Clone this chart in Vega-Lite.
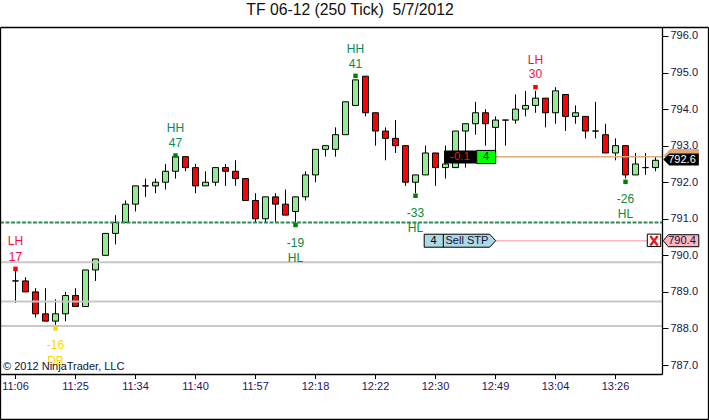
{
"$schema":"https://vega.github.io/schema/vega-lite/v6.json",
"width":662,"height":347,
"autosize":{"type":"none"},
"padding":{"left":0,"top":27,"right":47,"bottom":46},
"background":"white",
"config":{"font":"Liberation Sans","view":{"stroke":null}},
"title":{"text":"TF 06-12 (250 Tick) \u00a05/7/2012","fontSize":15.75,"fontWeight":"normal","color":"#111111","anchor":"middle","frame":"group","dx":19,"offset":8},
"datasets":{
"candles":[
{"bar":0,"open":789.3,"high":789.6,"low":788.7,"close":789.3,"dir":"up"},
{"bar":1,"open":789.3,"high":789.4,"low":789.0,"close":789.0,"dir":"down"},
{"bar":2,"open":789.0,"high":789.1,"low":788.3,"close":788.4,"dir":"down"},
{"bar":3,"open":788.4,"high":789.1,"low":788.2,"close":788.2,"dir":"down"},
{"bar":4,"open":788.2,"high":788.8,"low":788.1,"close":788.4,"dir":"up"},
{"bar":5,"open":788.4,"high":789.0,"low":788.2,"close":788.9,"dir":"up"},
{"bar":6,"open":788.9,"high":789.1,"low":788.6,"close":788.6,"dir":"down"},
{"bar":7,"open":788.6,"high":789.6,"low":788.6,"close":789.6,"dir":"up"},
{"bar":8,"open":789.6,"high":789.9,"low":789.3,"close":789.9,"dir":"up"},
{"bar":9,"open":790.0,"high":790.6,"low":790.0,"close":790.6,"dir":"up"},
{"bar":10,"open":790.6,"high":791.1,"low":790.3,"close":790.9,"dir":"up"},
{"bar":11,"open":790.9,"high":791.5,"low":790.9,"close":791.4,"dir":"up"},
{"bar":12,"open":791.4,"high":791.9,"low":791.2,"close":791.9,"dir":"up"},
{"bar":13,"open":791.9,"high":792.1,"low":791.6,"close":791.9,"dir":"up"},
{"bar":14,"open":791.9,"high":792.1,"low":791.7,"close":792.0,"dir":"up"},
{"bar":15,"open":792.0,"high":792.5,"low":791.8,"close":792.3,"dir":"up"},
{"bar":16,"open":792.3,"high":792.7,"low":792.1,"close":792.7,"dir":"up"},
{"bar":17,"open":792.7,"high":792.7,"low":792.3,"close":792.4,"dir":"down"},
{"bar":18,"open":792.4,"high":792.5,"low":791.7,"close":791.9,"dir":"down"},
{"bar":19,"open":791.9,"high":792.3,"low":791.9,"close":792.0,"dir":"up"},
{"bar":20,"open":792.0,"high":792.4,"low":791.9,"close":792.4,"dir":"up"},
{"bar":21,"open":792.4,"high":792.5,"low":791.9,"close":792.3,"dir":"down"},
{"bar":22,"open":792.3,"high":792.6,"low":791.9,"close":792.1,"dir":"down"},
{"bar":23,"open":792.1,"high":792.1,"low":791.5,"close":791.5,"dir":"down"},
{"bar":24,"open":791.5,"high":791.7,"low":790.9,"close":791.0,"dir":"down"},
{"bar":25,"open":791.0,"high":791.6,"low":790.9,"close":791.6,"dir":"up"},
{"bar":26,"open":791.6,"high":791.7,"low":790.9,"close":791.4,"dir":"down"},
{"bar":27,"open":791.4,"high":791.8,"low":791.1,"close":791.1,"dir":"down"},
{"bar":28,"open":791.2,"high":791.6,"low":790.9,"close":791.6,"dir":"up"},
{"bar":29,"open":791.6,"high":792.3,"low":791.5,"close":792.2,"dir":"up"},
{"bar":30,"open":792.2,"high":792.9,"low":792.0,"close":792.9,"dir":"up"},
{"bar":31,"open":792.9,"high":793.0,"low":792.7,"close":793.0,"dir":"up"},
{"bar":32,"open":792.9,"high":793.5,"low":792.7,"close":793.3,"dir":"up"},
{"bar":33,"open":793.3,"high":794.2,"low":793.3,"close":794.2,"dir":"up"},
{"bar":34,"open":794.1,"high":794.8,"low":794.1,"close":794.8,"dir":"up"},
{"bar":35,"open":794.9,"high":794.9,"low":793.8,"close":793.9,"dir":"down"},
{"bar":36,"open":793.9,"high":793.9,"low":793.0,"close":793.4,"dir":"down"},
{"bar":37,"open":793.4,"high":793.5,"low":792.6,"close":793.2,"dir":"down"},
{"bar":38,"open":793.2,"high":793.7,"low":792.8,"close":793.0,"dir":"down"},
{"bar":39,"open":793.0,"high":793.0,"low":791.9,"close":792.0,"dir":"down"},
{"bar":40,"open":792.0,"high":792.2,"low":791.7,"close":792.2,"dir":"up"},
{"bar":41,"open":792.2,"high":793.0,"low":792.2,"close":792.8,"dir":"up"},
{"bar":42,"open":792.8,"high":792.8,"low":791.9,"close":792.4,"dir":"down"},
{"bar":43,"open":792.4,"high":793.0,"low":792.1,"close":792.5,"dir":"up"},
{"bar":44,"open":792.4,"high":793.4,"low":792.4,"close":793.4,"dir":"up"},
{"bar":45,"open":793.4,"high":793.6,"low":792.4,"close":793.6,"dir":"up"},
{"bar":46,"open":793.6,"high":794.2,"low":793.3,"close":793.9,"dir":"up"},
{"bar":47,"open":793.9,"high":794.0,"low":793.0,"close":793.6,"dir":"down"},
{"bar":48,"open":793.5,"high":793.8,"low":792.8,"close":793.7,"dir":"up"},
{"bar":49,"open":793.7,"high":793.7,"low":793.0,"close":793.7,"dir":"up"},
{"bar":50,"open":793.7,"high":794.4,"low":793.6,"close":794.0,"dir":"up"},
{"bar":51,"open":794.0,"high":794.5,"low":793.8,"close":794.1,"dir":"up"},
{"bar":52,"open":794.1,"high":794.5,"low":793.9,"close":794.3,"dir":"up"},
{"bar":53,"open":794.3,"high":794.3,"low":793.5,"close":793.9,"dir":"down"},
{"bar":54,"open":793.9,"high":794.6,"low":793.6,"close":794.5,"dir":"up"},
{"bar":55,"open":794.4,"high":794.4,"low":793.4,"close":793.8,"dir":"down"},
{"bar":56,"open":793.8,"high":794.1,"low":793.6,"close":793.9,"dir":"up"},
{"bar":57,"open":793.8,"high":793.8,"low":793.2,"close":793.4,"dir":"down"},
{"bar":58,"open":793.4,"high":794.2,"low":793.2,"close":793.4,"dir":"up"},
{"bar":59,"open":793.3,"high":793.6,"low":792.8,"close":792.8,"dir":"down"},
{"bar":60,"open":792.8,"high":793.2,"low":792.6,"close":793.0,"dir":"up"},
{"bar":61,"open":793.0,"high":793.0,"low":792.1,"close":792.2,"dir":"down"},
{"bar":62,"open":792.2,"high":792.8,"low":792.2,"close":792.5,"dir":"up"},
{"bar":63,"open":792.4,"high":792.8,"low":792.2,"close":792.4,"dir":"up"},
{"bar":64,"open":792.4,"high":792.7,"low":792.3,"close":792.6,"dir":"up"}
],
"levels":[
{"bar":-1.55,"bar2":64.65,"price":789.81},
{"bar":-1.55,"bar2":64.65,"price":788.74},
{"bar":-1.55,"bar2":64.65,"price":788.07}
],
"pivots":[
{"bar":0,"price":789.63,"kind":"LH"},
{"bar":4,"price":788.0,"kind":"DB"},
{"bar":16,"price":792.73,"kind":"HH"},
{"bar":28,"price":790.83,"kind":"HL"},
{"bar":34,"price":794.91,"kind":"HH"},
{"bar":40,"price":791.63,"kind":"HL"},
{"bar":52,"price":794.6,"kind":"LH"},
{"bar":61,"price":792.01,"kind":"HL"}
],
"pivotLabels":[
{"bar":0,"price":790.39,"kind":"LH","label":"LH"},
{"bar":0,"price":789.96,"kind":"LH","label":"17"},
{"bar":4,"price":787.55,"kind":"DB","label":"-16"},
{"bar":4,"price":787.11,"kind":"DB","label":"DB"},
{"bar":16,"price":793.48,"kind":"HH","label":"HH"},
{"bar":16,"price":793.07,"kind":"HH","label":"47"},
{"bar":28,"price":790.35,"kind":"HL","label":"-19"},
{"bar":28,"price":789.93,"kind":"HL","label":"HL"},
{"bar":34,"price":795.64,"kind":"HH","label":"HH"},
{"bar":34,"price":795.23,"kind":"HH","label":"41"},
{"bar":40,"price":791.15,"kind":"HL","label":"-33"},
{"bar":40,"price":790.75,"kind":"HL","label":"HL"},
{"bar":52,"price":795.34,"kind":"LH","label":"LH"},
{"bar":52,"price":794.96,"kind":"LH","label":"30"},
{"bar":61,"price":791.53,"kind":"HL","label":"-26"},
{"bar":61,"price":791.13,"kind":"HL","label":"HL"}
],
"frame":[
{"bar":-1.5,"bar2":69.3,"price":796.2325,"price2":796.2325},
{"bar":-1.5,"bar2":69.3,"price":785.51,"price2":785.51},
{"bar":-1.5,"bar2":-1.5,"price":796.2325,"price2":785.51},
{"bar":69.3,"bar2":69.3,"price":796.2325,"price2":785.51},
{"bar":-1.5,"bar2":64.7,"price":786.74,"price2":786.74},
{"bar":64.7,"bar2":64.7,"price":796.2325,"price2":786.74}
]
},
"encoding":{
"x":{"field":"bar","type":"quantitative","scale":{"domain":[-1.55,64.65],"nice":false,"zero":false,"padding":0},"title":null,
"axis":{"values":[0,6,12,18,24,30,36,42,48,54,60],"grid":false,"domain":false,"tickSize":5,"tickColor":"#000000","tickWidth":1,"tickRound":false,"translate":0,"labelPadding":2,"labelFontSize":11,"labelColor":"#2a1068","labelFlush":false,"labelOverlap":false,"title":null,
"labelExpr":"['11:06','11:25','11:34','11:40','11:57','12:18','12:22','12:30','12:49','13:04','13:26'][datum.value/6]"}},
"y":{"field":"price","type":"quantitative","scale":{"domain":[786.754,796.246],"nice":false,"zero":false,"padding":0},"title":null,
"axis":{"orient":"right","values":[787,788,789,790,791,792,793,794,795,796],"format":".1f","grid":false,"domain":false,"tickSize":6,"tickColor":"#000000","tickWidth":1,"labelPadding":2,"labelFontSize":11,"labelColor":"#14143c","labelOverlap":false,"title":null}}
},
"layer":[
{"data":{"name":"candles"},"mark":{"type":"rule","color":"#000000","strokeWidth":1},
 "encoding":{"y":{"field":"low","type":"quantitative","title":null,"scale":{"domain":[786.754,796.246],"nice":false,"zero":false,"padding":0},
 "axis":{"orient":"right","values":[787,788,789,790,791,792,793,794,795,796],"format":".1f","grid":false,"domain":false,"tickSize":6,"tickColor":"#000000","tickWidth":1,"labelPadding":2,"labelFontSize":11,"labelColor":"#14143c","labelOverlap":false,"title":null}},"y2":{"field":"high"}}},
{"data":{"name":"candles"},"mark":{"type":"bar","orient":"vertical","size":6,"stroke":"#000000","strokeWidth":1},
 "encoding":{"y":{"field":"open","type":"quantitative","title":null,"scale":{"domain":[786.754,796.246],"nice":false,"zero":false,"padding":0},
 "axis":{"orient":"right","values":[787,788,789,790,791,792,793,794,795,796],"format":".1f","grid":false,"domain":false,"tickSize":6,"tickColor":"#000000","tickWidth":1,"labelPadding":2,"labelFontSize":11,"labelColor":"#14143c","labelOverlap":false,"title":null}},"y2":{"field":"close"},
 "color":{"field":"dir","type":"nominal","scale":{"domain":["up","down"],"range":["#90ee90","#ff0000"]},"legend":null}}},
{"data":{"name":"levels"},"mark":{"type":"rule","color":"#c8c8c8","strokeWidth":2},"encoding":{"x2":{"field":"bar2"}}},
{"data":{"values":[{"bar":-1.55,"bar2":64.65,"price":790.9}]},"mark":{"type":"rule","color":"#2e8b57","strokeWidth":2,"strokeDash":[4,1.5]},"encoding":{"x2":{"field":"bar2"}}},
{"data":{"values":[{"bar":48,"bar2":64.65,"price":792.7}]},"mark":{"type":"rule","color":"#e2aa78","strokeWidth":1.5},"encoding":{"x2":{"field":"bar2"}}},
{"data":{"values":[{"bar":48,"bar2":63.2,"price":790.4}]},"mark":{"type":"rule","color":"#ffb6c1","strokeWidth":1.5},"encoding":{"x2":{"field":"bar2"}}},
{"data":{"name":"pivots"},"mark":{"type":"point","shape":"square","filled":true,"size":20,"opacity":1},
 "encoding":{"color":{"field":"kind","type":"nominal","scale":{"domain":["LH","HH","HL","DB"],"range":["#ff0000","#008000","#008000","#ffd700"]},"legend":null}}},
{"data":{"name":"pivotLabels"},"mark":{"type":"text","fontSize":12,"baseline":"middle","align":"center"},
 "encoding":{"text":{"field":"label"},"color":{"field":"kind","type":"nominal","scale":{"domain":["LH","HH","HL","DB"],"range":["#f01040","#0a8a5a","#0a8a3a","#ffd700"]},"legend":null}}},
{"data":{"values":[{"bar":-1.25,"price":786.95,"label":"© 2012 NinjaTrader, LLC"}]},"mark":{"type":"text","fontSize":11,"baseline":"middle","align":"left","color":"#101030"},"encoding":{"text":{"field":"label"}}},
{"data":{"values":[{"bar":42.85,"bar2":46.12,"price":792.87,"price2":792.51}]},"mark":{"type":"rect","color":"#000000"},"encoding":{"x2":{"field":"bar2"},"y2":{"field":"price2"}}},
{"data":{"values":[{"bar":46.12,"bar2":48.02,"price":792.87,"price2":792.51}]},"mark":{"type":"rect","fill":"#00ff00","stroke":"#000000","strokeWidth":1},"encoding":{"x2":{"field":"bar2"},"y2":{"field":"price2"}}},
{"data":{"values":[{"bar":44.45,"price":792.69,"label":"-0.1"}]},"mark":{"type":"text","fontSize":11.5,"baseline":"middle","align":"center","color":"#ff1010"},"encoding":{"text":{"field":"label"}}},
{"data":{"values":[{"bar":47.05,"price":792.69,"label":"4"}]},"mark":{"type":"text","fontSize":11,"baseline":"middle","align":"center","color":"#000000"},"encoding":{"text":{"field":"label"}}},
{"data":{"values":[{"bar":48.02,"price":790.4}]},"mark":{"type":"point","filled":true,"opacity":1,"size":4,"fill":"#add8e6","stroke":"#000000","strokeWidth":1,"shape":"M0,0 L-6,-6.5 L-71.5,-6.5 L-71.5,6.5 L-6,6.5 Z"}},
{"data":{"values":[{"bar":42.78,"price":790.58,"price2":790.22}]},"mark":{"type":"rule","color":"#000000","strokeWidth":1},"encoding":{"y2":{"field":"price2"}}},
{"data":{"values":[{"bar":41.8,"price":790.39,"label":"4"}]},"mark":{"type":"text","fontSize":11,"baseline":"middle","align":"center","color":"#000000"},"encoding":{"text":{"field":"label"}}},
{"data":{"values":[{"bar":43.0,"price":790.39,"label":"Sell STP"}]},"mark":{"type":"text","fontSize":11,"baseline":"middle","align":"left","color":"#101030"},"encoding":{"text":{"field":"label"}}},
{"data":{"values":[{"bar":63.18,"bar2":64.52,"price":790.58,"price2":790.24}]},"mark":{"type":"rect","fill":"#ffffff","stroke":"#000000","strokeWidth":1},"encoding":{"x2":{"field":"bar2"},"y2":{"field":"price2"}}},
{"data":{"values":[{"bar":63.48,"bar2":64.22,"price":790.53,"price2":790.27},{"bar":63.48,"bar2":64.22,"price":790.27,"price2":790.53}]},"mark":{"type":"rule","color":"#ee1111","strokeWidth":2.2},"encoding":{"x2":{"field":"bar2"},"y2":{"field":"price2"}}},
{"data":{"values":[{"bar":64.78,"price":790.4}]},"mark":{"type":"point","filled":true,"opacity":1,"size":4,"fill":"#ffb6c1","stroke":"#000000","strokeWidth":1,"shape":"M0,0 L5,-6 L35.5,-6 L35.5,6 L5,6 Z"}},
{"data":{"values":[{"bar":66.65,"price":790.39,"label":"790.4"}]},"mark":{"type":"text","fontSize":11,"baseline":"middle","align":"center","color":"#101030"},"encoding":{"text":{"field":"label"}}},
{"data":{"values":[{"bar":64.78,"price":792.72}]},"mark":{"type":"point","filled":true,"opacity":1,"size":4,"fill":"#e2aa78","shape":"M0,0 L7,-7 L35.5,-7 L35.5,7 L7,7 Z"}},
{"data":{"values":[{"bar":64.78,"price":792.62}]},"mark":{"type":"point","filled":true,"opacity":1,"size":4,"fill":"#000000","shape":"M0,0 L6,-6 L35.5,-6 L35.5,6 L6,6 Z"}},
{"data":{"values":[{"bar":66.65,"price":792.61,"label":"792.6"}]},"mark":{"type":"text","fontSize":11,"baseline":"middle","align":"center","color":"#ffffff"},"encoding":{"text":{"field":"label"}}},
{"data":{"name":"frame"},"mark":{"type":"rule","color":"#000000","strokeWidth":1.3},"encoding":{"x2":{"field":"bar2"},"y2":{"field":"price2"}}}
],
"resolve":{"scale":{"color":"independent"}}
}
